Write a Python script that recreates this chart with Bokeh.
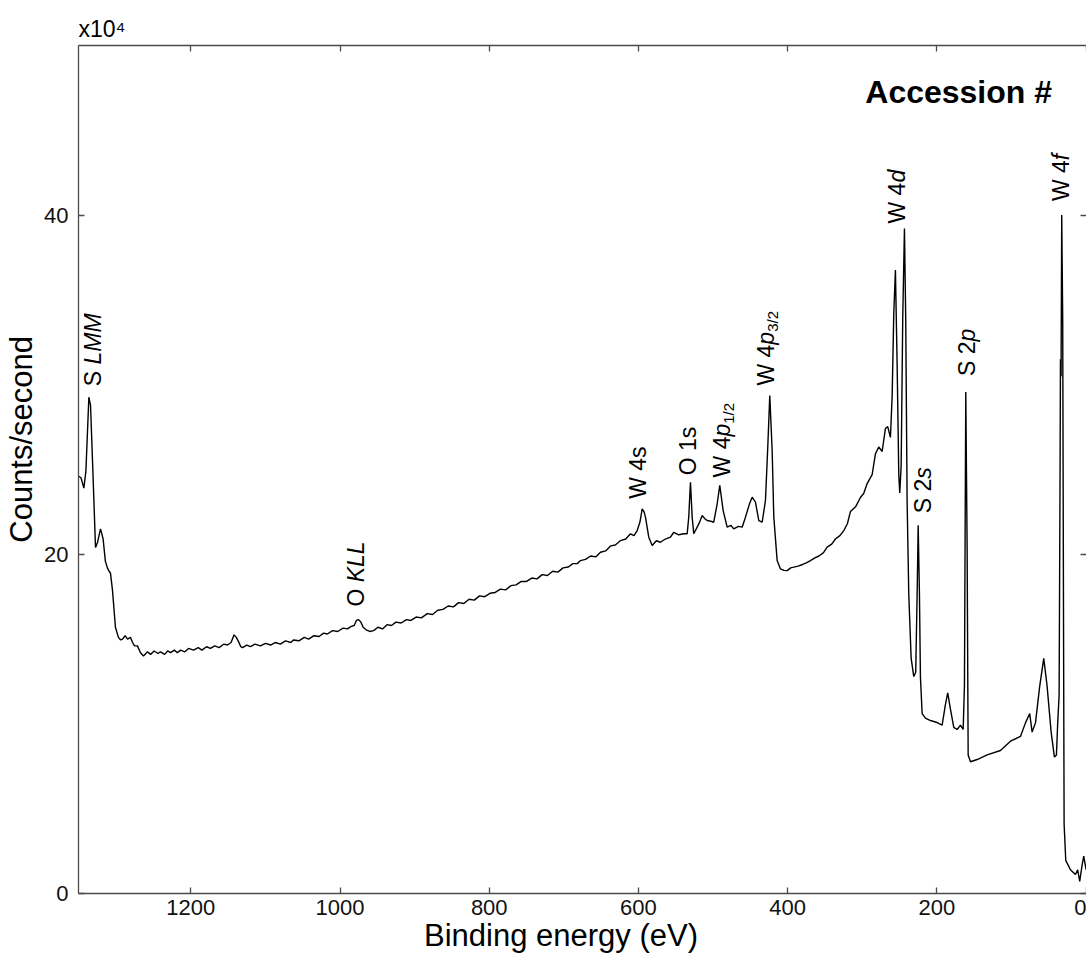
import numpy as np
from math import pi

from bokeh.plotting import figure
from bokeh.models import Range1d, FixedTicker, LinearAxis, Label, CustomJSTickFormatter
from bokeh.embed import file_html
from bokeh.resources import INLINE

# ---------------------------------------------------------------- data
binding_energy = [
    1350, 1347, 1343.3, 1340.6, 1336.6, 1334.4, 1331.7, 1327.7, 1325, 1321,
    1317.5, 1314.5, 1311.8, 1309.5, 1307.7, 1305, 1301, 1297, 1294, 1291.5,
    1288, 1284.8, 1280.8, 1278, 1275.4, 1271.5, 1267.4, 1263.4, 1258, 1254,
    1249, 1244, 1240.7, 1235, 1231, 1227, 1222, 1218, 1213.7, 1208,
    1203, 1196.3, 1190, 1185, 1179, 1173.6, 1168, 1162, 1156, 1150.8,
    1146, 1142, 1139, 1136, 1133, 1130.6, 1125, 1120, 1114, 1106.6,
    1100, 1093, 1086.5, 1080, 1073, 1066, 1062.4, 1055, 1048, 1042,
    1035, 1028, 1022, 1016.9, 1010, 1003, 996, 990, 985, 981,
    978, 975, 972, 969, 965, 960, 955, 949, 943, 937,
    931, 925, 918, 911, 905, 898, 891, 883, 876, 869,
    862, 855, 848, 841, 834, 827, 820, 813, 806, 799,
    792, 785, 778, 771, 764, 757, 750, 743, 736, 729,
    722, 715, 708, 701, 694, 688, 682, 677.7, 671, 664,
    657, 650.9, 644, 637, 631, 624, 617, 610.7, 606, 601.7,
    598, 595, 592.5, 590.6, 586.2, 581.6, 576, 570.5, 564, 557.1,
    552.7, 546, 539.3, 534.7, 532.6, 530.3, 528, 525.9, 521.3, 518,
    514.6, 511, 507.9, 503, 499.1, 494.5, 491, 486.5, 481.1, 476,
    472.3, 466, 461, 456.6, 451, 447.6, 443.2, 438.7, 434.2, 429.8,
    426.7, 424, 420.8, 418.6, 414.1, 409.7, 405, 400.7, 396, 391.8,
    386, 380, 375, 369.5, 363, 358, 352, 347.1, 341, 336,
    330, 324.8, 320, 315.9, 309, 302.5, 298, 293.5, 286.8, 282.4,
    277.9, 273.4, 269, 265.9, 262.3, 260, 257.8, 255.6, 253.3, 251.1,
    249.8, 247.9, 245.8, 243.5, 241.8, 239.9, 237.7, 234.5, 231, 228.4,
    226.5, 225.1, 223.4, 222.1, 219.8, 215.4, 208.7, 199.7, 193, 188.6,
    185.5, 181.9, 177.4, 172.9, 168.4, 164.8, 163.1, 161.3, 159.5, 158.1,
    155, 146.1, 132.7, 114.8, 101.4, 88, 81.3, 75.6, 72.4, 67.9,
    62.2, 56.8, 52.3, 46.9, 42.5, 39.8, 38.1, 36.2, 35, 34.4,
    33.6, 32.7, 31.4, 30.4, 29.5, 27.3, 21, 14.3, 11.3, 8.6,
    5.4, 3.2, 0,
]

counts_x1e4 = [
    24.6, 24.5, 23.9, 24.9, 29.26, 28.8, 25.5, 20.4, 20.7, 21.5,
    20.9, 19.6, 19.2, 19.0, 18.9, 17.9, 15.7, 15.1, 14.95, 15.0,
    15.2, 15.0, 15.1, 14.8, 14.6, 14.6, 14.2, 14.0, 14.25, 14.1,
    14.3, 14.15, 14.25, 14.1, 14.3, 14.2, 14.35, 14.2, 14.35, 14.25,
    14.45, 14.35, 14.5, 14.35, 14.55, 14.45, 14.6, 14.5, 14.7, 14.65,
    14.8, 15.25, 15.1, 14.85, 14.55, 14.5, 14.65, 14.55, 14.7, 14.6,
    14.75, 14.65, 14.8, 14.7, 14.9, 14.8, 14.95, 14.9, 15.1, 15.0,
    15.2, 15.15, 15.35, 15.3, 15.5, 15.45, 15.65, 15.6, 15.75, 15.8,
    16.1, 16.15, 16.0, 15.7, 15.55, 15.45, 15.5, 15.7, 15.6, 15.85,
    15.8, 16.0, 15.95, 16.15, 16.1, 16.3, 16.25, 16.5, 16.45, 16.7,
    16.75, 16.95, 16.9, 17.15, 17.1, 17.35, 17.3, 17.55, 17.5, 17.7,
    17.75, 17.95, 17.9, 18.15, 18.2, 18.4, 18.4, 18.6, 18.55, 18.8,
    18.75, 19.0, 18.95, 19.2, 19.25, 19.45, 19.45, 19.63, 19.7, 19.9,
    19.85, 20.12, 20.2, 20.5, 20.55, 20.81, 20.9, 21.21, 21.1, 21.4,
    21.9, 22.68, 22.5, 22.19, 21.01, 20.52, 20.8, 20.71, 20.9, 21.01,
    21.3, 21.15, 21.21, 21.21, 22.19, 24.25, 22.19, 21.21, 21.6, 21.9,
    22.29, 22.1, 21.99, 21.95, 21.89, 22.98, 24.06, 22.58, 21.6, 21.7,
    21.5, 21.65, 21.6, 22.19, 23.0, 23.37, 23.07, 21.99, 21.89, 23.17,
    26.31, 29.36, 26.12, 22.19, 19.63, 19.14, 19.05, 19.04, 19.2, 19.24,
    19.3, 19.4, 19.5, 19.63, 19.8, 19.9, 20.1, 20.42, 20.6, 20.9,
    21.1, 21.4, 21.8, 22.52, 22.8, 23.35, 23.6, 24.17, 24.7, 25.92,
    26.33, 26.06, 27.42, 27.53, 26.89, 29.3, 34.2, 36.76, 31.19, 24.7,
    23.61, 25.23, 33.9, 39.21, 33.9, 23.07, 17.65, 13.86, 12.79, 13.05,
    17.65, 21.71, 17.65, 12.79, 10.61, 10.34, 10.2, 10.08, 9.93, 11.14,
    11.83, 10.88, 9.79, 9.67, 9.93, 9.67, 12.23, 29.57, 20.37, 8.17,
    7.77, 7.9, 8.17, 8.43, 8.98, 9.26, 10.06, 10.61, 9.52, 10.06,
    12.23, 13.86, 12.23, 9.52, 8.04, 8.17, 10.06, 11.69, 24.0, 31.5,
    30.5, 40.0, 33.91, 17.65, 4.1, 1.95, 1.4, 1.12, 1.4, 0.72,
    1.67, 2.21, 1.4,
]

x_ticks = [1200, 1000, 800, 600, 400, 200, 0]
y_ticks = [0, 20, 40]

peak_names = ["S LMM", "O KLL", "W 4s", "O 1s", "W 4p1/2", "W 4p3/2",
              "W 4d", "S 2s", "S 2p", "W 4f"]
peak_energy = [1336.6, 975, 595, 530.3, 491, 424, 243.5, 225.1, 161.3, 32.7]

# ---------------------------------------------------------------- styling
FONT = "Liberation Sans"
AXIS_GREY = "#4a4a4a"
NBSP = "\u00a0"

# Arial / Liberation Sans advance widths (em units) used to chain label pieces
ADV = {" ": .278, "W": .944, "S": .667, "O": .778, "L": .556, "M": .833,
       "K": .667, "1": .556, "2": .556, "3": .556, "4": .556, "/": .278,
       "s": .5, "p": .556, "d": .556, "f": .278, "x": .5, "0": .556}


def advance(text, size):
    return sum(ADV.get(c, .556) for c in text) * size


# how each peak name is typeset: (text, style, size, sideways shift)
LABEL_SIZE = 23
SUB_SIZE = 15
pieces = {
    "S LMM": [("S ", "normal", LABEL_SIZE, 0), ("LMM", "italic", LABEL_SIZE, 0)],
    "O KLL": [("O ", "normal", LABEL_SIZE, 0), ("KLL", "italic", LABEL_SIZE, 0)],
    "W 4s": [("W 4s", "normal", LABEL_SIZE, 0)],
    "O 1s": [("O 1s", "normal", LABEL_SIZE, 0)],
    "W 4p1/2": [("W 4", "normal", LABEL_SIZE, 0), ("p", "italic", LABEL_SIZE, 0),
                ("1/2", "normal", SUB_SIZE, 7)],
    "W 4p3/2": [("W 4", "normal", LABEL_SIZE, 0), ("p", "italic", LABEL_SIZE, 0),
                ("3/2", "normal", SUB_SIZE, 7)],
    "W 4d": [("W 4", "normal", LABEL_SIZE, 0), ("d", "italic", LABEL_SIZE, 0)],
    "S 2s": [("S 2", "normal", LABEL_SIZE, 0), ("s", "italic", LABEL_SIZE, 0)],
    "S 2p": [("S 2", "normal", LABEL_SIZE, 0), ("p", "italic", LABEL_SIZE, 0)],
    "W 4f": [("W 4", "normal", LABEL_SIZE, 0), ("f", "italic", LABEL_SIZE, 0)],
}
# sideways nudge and gap above the peak top, in pixels
placement = {
    "S LMM": (4, 11), "O KLL": (-3, 13), "W 4s": (-4, 10), "O 1s": (-2, 7),
    "W 4p1/2": (2, 8), "W 4p3/2": (-4, 10), "W 4d": (-7, 5), "S 2s": (5, 12),
    "S 2p": (1, 16), "W 4f": (-1, 14),
}

# ---------------------------------------------------------------- figure
p = figure(
    width=1086, height=955,
    x_range=Range1d(1350.5, -0.5), y_range=Range1d(0, 50),
    output_backend="svg", toolbar_location=None,
    min_border_left=78, min_border_right=0,
    min_border_top=45, min_border_bottom=62,
    title="x10\u2074",
)
p.outline_line_color = None
p.grid.visible = False
p.background_fill_color = "white"
p.border_fill_color = "white"

p.title.align = "left"
p.title.offset = 0
p.title.standoff = 8
p.title.text_font = FONT
p.title.text_font_size = "23px"
p.title.text_font_style = "normal"
p.title.text_color = "black"


def style_axis(ax, label_size="22px"):
    ax.axis_line_color = AXIS_GREY
    ax.axis_line_width = 1.3
    ax.major_tick_line_color = AXIS_GREY
    ax.major_tick_line_width = 1.3
    ax.major_tick_in = 6
    ax.major_tick_out = 0
    ax.minor_tick_line_color = None
    ax.major_label_text_font = FONT
    ax.major_label_text_font_size = label_size
    ax.major_label_text_color = "#111111"
    ax.axis_label_text_font = FONT
    ax.axis_label_text_font_size = "31px"
    ax.axis_label_text_font_style = "normal"
    ax.axis_label_text_color = "black"


xa = p.xaxis[0]
xa.ticker = FixedTicker(ticks=x_ticks)
style_axis(xa)
xa.major_label_standoff = 6
# trailing padding moves the centred title a little to the left
xa.axis_label = "Binding energy (eV)" + NBSP * 5
xa.axis_label_standoff = 0

ya = p.yaxis[0]
ya.ticker = FixedTicker(ticks=y_ticks)
style_axis(ya)
ya.major_label_standoff = 10
# leading padding lifts the centred title a little
ya.axis_label = NBSP * 7 + "Counts/second"
ya.axis_label_standoff = 2

blank = "return ''"

top = LinearAxis(ticker=FixedTicker(ticks=x_ticks),
                 formatter=CustomJSTickFormatter(code=blank))
style_axis(top)
top.major_label_standoff = 0
p.add_layout(top, "above")

right = LinearAxis(ticker=FixedTicker(ticks=y_ticks),
                   formatter=CustomJSTickFormatter(code=blank))
style_axis(right)
right.axis_line_color = None
right.major_label_standoff = 0
p.add_layout(right, "right")

# spectrum
p.line(binding_energy, counts_x1e4, line_color="black", line_width=1.4)

# peak annotations
be_arr = np.array(binding_energy)
ct_arr = np.array(counts_x1e4)
for name, energy in zip(peak_names, peak_energy):
    near = np.abs(be_arr - energy) <= 1.0
    top_value = ct_arr[near].max()
    dx, gap = placement[name]
    offset = gap
    for text, style, size, shift in pieces[name]:
        p.add_layout(Label(
            x=energy, y=top_value, x_offset=dx + shift, y_offset=offset,
            text=text.rstrip(), angle=pi / 2,
            text_align="left", text_baseline="middle",
            text_font=FONT, text_font_size=f"{size}px",
            text_font_style=style, text_color="black",
        ))
        offset += advance(text, size)

p.add_layout(Label(
    x=296, y=47.25, text="Accession #",
    text_align="left", text_baseline="middle",
    text_font=FONT, text_font_size="32px", text_font_style="bold",
    text_color="black",
))

open("out.html", "w").write(file_html(p, INLINE))
